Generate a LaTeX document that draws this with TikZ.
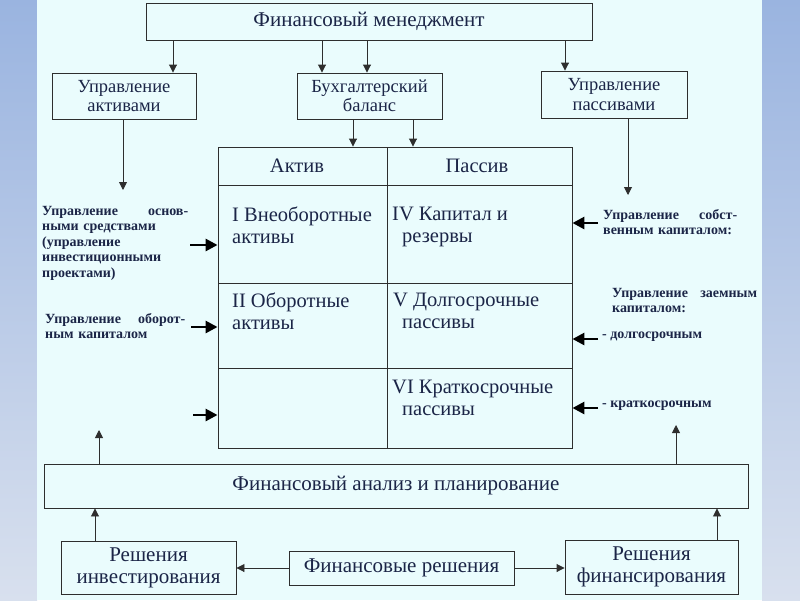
\documentclass[tikz,border=0pt]{standalone}
\usepackage{fontspec}
\setmainfont{Liberation Serif}
\usetikzlibrary{arrows.meta}
\definecolor{panel}{HTML}{EAFCFD}
\definecolor{stripA}{HTML}{9AB4E0}
\definecolor{stripB}{HTML}{D8E0EE}
\definecolor{txt}{HTML}{1B2547}
\definecolor{ln}{HTML}{2E2E2E}
\tikzset{
  box/.style={draw=ln, line width=0.9pt, inner sep=0pt, align=center, text=txt,
    font=\fontsize{18.5}{19.5}\selectfont},
  boxbig/.style={box, font=\fontsize{21}{22}\selectfont},
  cell/.style={anchor=north west, inner sep=0pt, align=left, text=txt,
    font=\fontsize{20.5}{22.5}\selectfont},
  hdr/.style={inner sep=0pt, text=txt, font=\fontsize{20.5}{22}\selectfont},
  note/.style={anchor=north west, inner sep=0pt, align=left, text=txt,
    font=\fontsize{14}{15.5}\selectfont\bfseries},
  arr/.style={draw=ln, line width=0.9pt, -{Triangle[length=8pt,width=8pt]}},
  bigarr/.style={draw=black, line width=2.8pt, -{Triangle[length=12pt,width=12pt]}},
  tline/.style={draw=ln, line width=0.9pt}
}
\begin{document}
\begin{tikzpicture}[x=1pt,y=-1pt]
\useasboundingbox (0,0) rectangle (800,600);
\shade[top color=stripA, bottom color=stripB] (0,0) rectangle (37,600);
\shade[top color=stripA, bottom color=stripB] (762,0) rectangle (800,600);
\fill[panel] (37,0) rectangle (762,600);

% boxes
\node[boxbig, minimum width=446, minimum height=37] (fm) at (369,21.5) {Финансовый менеджмент};
\node[box, minimum width=144, minimum height=46] (aktiv) at (124,96) {Управление\\активами};
\node[box, minimum width=145, minimum height=46] (buh) at (369.5,96) {Бухгалтерский\\баланс};
\node[box, minimum width=146, minimum height=47] (passiv) at (614,94.5) {Управление\\пассивами};
\node[draw=ln, line width=0.9pt, inner sep=0pt, minimum width=354, minimum height=301] (tbl) at (395,297.5) {};
\node[boxbig, minimum width=704, minimum height=44] (an) at (396,486) {Финансовый анализ и планирование};
\node[boxbig, minimum width=175, minimum height=53] (inv) at (148.5,567.5) {Решения\\инвестирования};
\node[boxbig, minimum width=225, minimum height=34] (fr) at (401.5,568) {Финансовые решения};
\node[boxbig, minimum width=173, minimum height=54] (fin) at (651.5,567) {Решения\\финансирования};

% table grid
\draw[tline] (218,185) -- (572,185);
\draw[tline] (218,283) -- (572,283);
\draw[tline] (218,368) -- (572,368);
\draw[tline] (387,147) -- (387,448);

% table texts
\node[hdr] (hA) at (297,166) {Актив};
\node[hdr] (hP) at (477,166) {Пассив};
\node[cell] (c1) at (232,206.5) {I Внеоборотные\\активы};
\node[cell] (c4) at (392,206.5) {IV Капитал и\\\hspace*{10pt}резервы};
\node[cell] (c2) at (232,292.5) {II Оборотные\\активы};
\node[cell] (c5) at (393,292.5) {V Долгосрочные\\\hspace*{9pt}пассивы};
\node[cell] (c6) at (392,379.5) {VI Краткосрочные\\\hspace*{10pt}пассивы};

% side notes
\node[note, text width=146pt] (nL1) at (42,206) {Управление\hfill основ-\\ными средствами\\(управление\\инвестиционными\\проектами)};
\node[note, text width=140pt] (nL2) at (45,313) {Управление\hfill оборот-\\ным капиталом};
\node[note, text width=134pt] (nR1) at (603,209) {Управление\hfill собст-\\венным капиталом:};
\node[note, text width=145pt] (nR2) at (612,288) {Управление\hfill заемным\\капиталом:};
\node[note] (nR3) at (602,332) {- долгосрочным};
\node[note] (nR4) at (602,401) {- краткосрочным};

% arrows from top
\coordinate (xa) at (173,0);
\coordinate (xb1) at (322,0);
\coordinate (xb2) at (367,0);
\coordinate (xp) at (565,0);
\draw[arr] (fm.south -| xa) -- (aktiv.north -| xa);
\draw[arr] (fm.south -| xb1) -- (buh.north -| xb1);
\draw[arr] (fm.south -| xb2) -- (buh.north -| xb2);
\draw[arr] (fm.south -| xp) -- (passiv.north -| xp);

% balance to table
\coordinate (xt1) at (353,0);
\coordinate (xt2) at (413,0);
\draw[arr] (buh.south -| xt1) -- (tbl.north -| xt1);
\draw[arr] (buh.south -| xt2) -- (tbl.north -| xt2);

% down lines from side boxes
\coordinate (eL) at (123,190);
\coordinate (eR) at (628,195);
\draw[arr] (aktiv.south -| eL) -- (eL);
\draw[arr] (passiv.south -| eR) -- (eR);

% thick arrows into table
\coordinate (tL1) at (190,245);
\coordinate (tL2) at (191,327);
\coordinate (tL3) at (193,415);
\coordinate (tR1) at (598,223);
\coordinate (tR2) at (598,339);
\coordinate (tR3) at (598,408);
\draw[bigarr] (tL1) -- (tL1 -| tbl.west);
\draw[bigarr] (tL2) -- (tL2 -| tbl.west);
\draw[bigarr] (tL3) -- (tL3 -| tbl.west);
\draw[bigarr] (tR1) -- (tR1 -| tbl.east);
\draw[bigarr] (tR2) -- (tR2 -| tbl.east);
\draw[bigarr] (tR3) -- (tR3 -| tbl.east);

% analysis up arrows
\coordinate (uL) at (99,430);
\coordinate (uR) at (676,425);
\draw[arr] (an.north -| uL) -- (uL);
\draw[arr] (an.north -| uR) -- (uR);

% bottom
\coordinate (xi) at (95,0);
\coordinate (xf) at (717,0);
\draw[arr] (inv.north -| xi) -- (an.south -| xi);
\draw[arr] (fin.north -| xf) -- (an.south -| xf);
\draw[arr] (fr.west) -- (fr.west -| inv.east);
\draw[arr] (fr.east) -- (fr.east -| fin.west);
\end{tikzpicture}
\end{document}
